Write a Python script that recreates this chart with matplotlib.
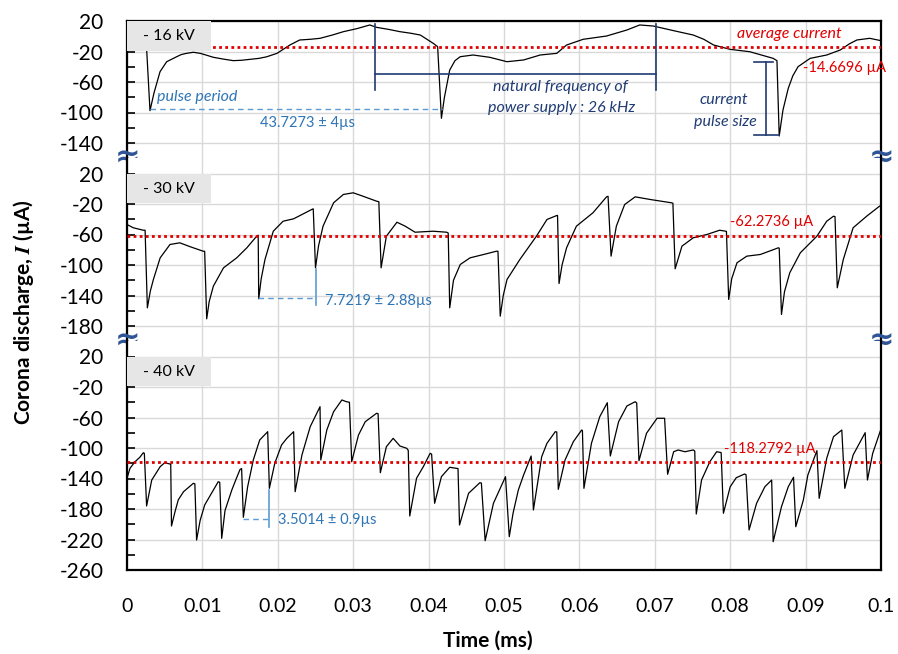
import numpy as np
import matplotlib.pyplot as plt
from matplotlib.patches import Rectangle

plt.rcParams['font.family'] = ['Lato', 'DejaVu Sans']
plt.rcParams['mathtext.fontset'] = 'stix'
plt.rcParams['axes.unicode_minus'] = False

# -------------------- datos --------------------
# (tiempo en ms, corriente en uA)
trace_16kv = [
    (0, -12), (0.0015, -14), (0.0024, -16), (0.00261, -18), (0.00305, -97.6),
    (0.00358, -74.4), (0.00438, -46.5), (0.00526, -33.4), (0.0066, -26.8),
    (0.0072, -24), (0.0079, -22.4), (0.0088, -21), (0.0097, -22.4), (0.0106, -25),
    (0.01145, -27.6), (0.0128, -30), (0.0141, -32), (0.0152, -31.5),
    (0.0163, -30.3), (0.0175, -29), (0.0185, -27), (0.0199, -22.4), (0.0216, -11.5),
    (0.0229, -4.9), (0.0243, -4), (0.0256, -2.7), (0.0272, 1.5), (0.0287, 6),
    (0.0305, 10), (0.0322, 14.8), (0.0331, 11.7), (0.0347, 9), (0.0362, 6),
    (0.0376, 4), (0.0389, 1.6), (0.0406, -9.2), (0.0412, -13.7), (0.0417, -107.6),
    (0.0421, -80), (0.0428, -44.3), (0.0435, -32), (0.0442, -26.8), (0.0459, -24.6),
    (0.0481, -27.6), (0.0504, -33.4), (0.0526, -31.1), (0.0548, -24.6), (0.057, -22.4),
    (0.0583, -11.5), (0.0605, -4), (0.0636, 0.3), (0.0663, 8.2), (0.068, 14.8),
    (0.0698, 13.4), (0.0725, 7.3), (0.0751, 1.6), (0.0765, -4), (0.0778, -11.5),
    (0.08, -17.2), (0.0826, -20.3), (0.0857, -29), (0.0862, -32), (0.0865, -130.8),
    (0.087, -96.7), (0.0877, -68.3), (0.0883, -52), (0.089, -39.9), (0.0906, -29),
    (0.0928, -24.6), (0.0946, -18), (0.0958, -10), (0.0968, -4.9), (0.0985, -2.7),
    (0.1, -5.8),
]

trace_30kv = [
    (0, -46.9), (0.00084, -51.2), (0.00216, -54.4), (0.0024, -54.4), (0.0027, -156.2),
    (0.0031, -134), (0.0035, -119), (0.0044, -90.6), (0.0057, -73.1), (0.007, -70.9),
    (0.0084, -76.1), (0.0101, -81.9), (0.0103, -82), (0.01057, -170.6),
    (0.0109, -148), (0.01145, -127.8), (0.0128, -103.7), (0.01455, -90.6),
    (0.0159, -77.4), (0.0172, -62.2), (0.0174, -61), (0.01747, -144.3),
    (0.0178, -118), (0.0183, -92.8), (0.0194, -55.7), (0.0207, -42.6),
    (0.0221, -39.4), (0.0245, -27.2), (0.0247, -26.3), (0.025, -103.7),
    (0.0254, -75), (0.026, -49.1), (0.0274, -18.4), (0.0287, -7.5), (0.03, -5.3),
    (0.0313, -9.8), (0.0331, -16.3), (0.0334, -17), (0.0337, -103.7),
    (0.0344, -62.2), (0.0358, -43.9), (0.0369, -49.1), (0.0382, -57),
    (0.0406, -55.7), (0.0424, -57), (0.0426, -58), (0.0428, -156.2),
    (0.0433, -120), (0.0442, -99.3), (0.0455, -90.6), (0.0473, -86.2), (0.049, -81.9),
    (0.0492, -82), (0.0495, -167.1), (0.0499, -140), (0.0504, -119), (0.0521, -92.8),
    (0.0543, -62.2), (0.0557, -40.3), (0.057, -35.1), (0.0571, -35),
    (0.0573, -124.3), (0.0577, -100), (0.0583, -77.4), (0.0596, -49.1), (0.0618, -31.5),
    (0.0636, -10.6), (0.0638, -9.9), (0.0642, -88.4), (0.0649, -49.1),
    (0.066, -20.7), (0.0674, -10.6), (0.0694, -14.1), (0.0722, -18.4),
    (0.0724, -19), (0.0727, -105), (0.0736, -75.3), (0.0751, -64.3),
    (0.0769, -60), (0.0786, -54.4), (0.0794, -55.7), (0.0795, -56),
    (0.0798, -145.2), (0.0802, -118), (0.0809, -97.1), (0.0822, -88.4), (0.084, -86.2),
    (0.0864, -77.4), (0.0865, -78), (0.0868, -164.9), (0.0872, -135), (0.0879, -110.2),
    (0.0893, -84), (0.0915, -62.2), (0.0928, -42.6), (0.0937, -36),
    (0.0939, -36.5), (0.0942, -129.9), (0.095, -92.8), (0.0963, -51.2),
    (0.0981, -36), (0.0998, -22.9), (0.1, -22),
]

trace_40kv = [
    (0, -139.7), (0.0004, -126.6), (0.00106, -118), (0.0017, -112.2), (0.00216, -106.2),
    (0.0023, -107), (0.0026, -176), (0.00328, -142), (0.0037, -135.4), (0.0044, -124.5),
    (0.005, -119.3), (0.0057, -121), (0.0058, -121), (0.0059, -202.3),
    (0.00637, -183.5), (0.0068, -168), (0.0075, -157.3), (0.0088, -146.3), (0.009, -147),
    (0.00923, -220.7), (0.0097, -195), (0.0103, -174.8), (0.01145, -155.1), (0.0121, -144.2),
    (0.0123, -145), (0.01256, -218.5), (0.013, -182), (0.0139, -155.1), (0.0145, -140),
    (0.015, -128), (0.0152, -127), (0.01543, -190.9), (0.016, -150.8), (0.01675, -115.7),
    (0.0176, -89.5), (0.01866, -78.6), (0.01888, -152.9), (0.0196, -120), (0.0205, -96),
    (0.0212, -87.3), (0.0221, -78.6), (0.0223, -157.3), (0.0232, -109.2),
    (0.0243, -72), (0.0256, -45.8), (0.0257, -115.7), (0.0265, -76.4),
    (0.0274, -52.4), (0.0285, -37), (0.0291, -39.3), (0.0295, -40), (0.0298, -118),
    (0.0307, -83), (0.0316, -65.5), (0.0331, -54.5), (0.0333, -55), (0.0336, -132.4),
    (0.0344, -98.3), (0.0353, -87.3), (0.0362, -97.4), (0.0371, -100.4),
    (0.0373, -103), (0.0375, -189.2), (0.0384, -139.7), (0.0393, -124.5),
    (0.0402, -107), (0.0404, -108), (0.0408, -172.5), (0.0417, -137.6),
    (0.0428, -125.3), (0.0437, -126.6), (0.0439, -127), (0.0441, -201),
    (0.0453, -159.4), (0.0468, -145.5), (0.047, -146), (0.0475, -221.6),
    (0.0486, -172.5), (0.0495, -152.9), (0.0502, -137.6), (0.0507, -216.3),
    (0.0512, -185.6), (0.0519, -155.1), (0.0526, -135.4), (0.0536, -110.5),
    (0.0539, -181.3), (0.055, -111.4), (0.0557, -93.8), (0.0568, -78.6),
    (0.057, -79), (0.0572, -154.2), (0.0581, -115.7), (0.0592, -91.7),
    (0.0603, -76.4), (0.0604, -77), (0.0606, -152.9), (0.0616, -93.8),
    (0.0627, -59), (0.0637, -40.6), (0.0641, -110.5), (0.0652, -65.5),
    (0.0663, -44.9), (0.0674, -39.3), (0.0676, -41), (0.0679, -116.7),
    (0.0689, -80.7), (0.0703, -61), (0.0713, -61), (0.0717, -134.5),
    (0.0725, -104.9), (0.0731, -102.6), (0.074, -104.9), (0.0751, -102.6),
    (0.0753, -104), (0.0755, -186.6), (0.0762, -142), (0.0773, -118),
    (0.0782, -104.9), (0.0788, -106), (0.0791, -185.6), (0.08, -150.8),
    (0.0808, -139), (0.0819, -134.1), (0.0821, -135), (0.0825, -207.5),
    (0.0835, -172.5), (0.0846, -150.8), (0.0855, -142), (0.0857, -222.9),
    (0.0868, -177), (0.0877, -150.8), (0.0884, -138.4), (0.0887, -203.2),
    (0.0897, -168.2), (0.0903, -135.4), (0.0915, -103.5), (0.0918, -166),
    (0.0928, -113.5), (0.0937, -85.2), (0.0948, -76.4), (0.0952, -152.9),
    (0.0963, -109.2), (0.0979, -79.9), (0.0982, -142), (0.0989, -107), (0.1, -75),
]

voltajes = ["- 16 kV", "- 30 kV", "- 40 kV"]
promedios = [-14.6696, -62.2736, -118.2792]
periodos = ["43.7273 \u00b1 4\u00b5s", "7.7219 \u00b1 2.88\u00b5s", "3.5014 \u00b1 0.9\u00b5s"]
ylims = [(-160, 20), (-200, 40), (-260, 40)]
yticks = [[20, -20, -60, -100, -140],
          [20, -20, -60, -100, -140, -180],
          [20, -20, -60, -100, -140, -180, -220, -260]]
xticks = [0, 0.01, 0.02, 0.03, 0.04, 0.05, 0.06, 0.07, 0.08, 0.09, 0.1]
xlabels = ["0", "0.01", "0.02", "0.03", "0.04", "0.05", "0.06", "0.07", "0.08", "0.09", "0.1"]

RED = "#e00000"
BLUE = "#2e75b6"
LIGHTBLUE = "#5b9bd5"
NAVY = "#1f3b73"
BREAK = "#2f5597"

# -------------------- figura --------------------
fig = plt.figure(figsize=(8.98, 6.54), dpi=100)
gs = fig.add_gridspec(3, 1, height_ratios=[180, 240, 300], hspace=0,
                      left=127 / 898, right=881 / 898, top=1 - 21 / 654, bottom=1 - 570 / 654)
axes = [fig.add_subplot(gs[k]) for k in range(3)]

for k, (ax, tr) in enumerate(zip(axes, [trace_16kv, trace_30kv, trace_40kv])):
    t, i = np.array(tr).T
    ax.plot(t, i, color="black", lw=0.9, zorder=3)
    ax.axhline(promedios[k], color=RED, lw=2, ls=(0, (1, 1.2)), zorder=4)
    ax.set_xlim(0, 0.1)
    ax.set_ylim(*ylims[k])
    ax.set_yticks(yticks[k])
    ax.set_yticks([v - 20 for v in yticks[k] if v - 20 > ylims[k][0]], minor=True)
    ax.set_xticks(xticks)
    ax.grid(True, which="major", color="#d9d9d9", lw=1, zorder=0)
    ax.tick_params(axis="y", which="both", direction="in", length=6, width=1.2,
                   labelsize=15, pad=17)
    ax.tick_params(axis="x", length=0)
    for s in ax.spines.values():
        s.set_linewidth(1.6)
    # caja gris con el voltaje
    ax.add_patch(Rectangle((0, 20), 0.0111, -39, facecolor="#e6e6e6",
                           edgecolor="none", zorder=5))
    ax.text(0.0021, 0, voltajes[k], fontsize=11.5, va="center", ha="left", zorder=6)

axes[0].spines["bottom"].set_visible(False)
axes[1].spines["top"].set_visible(False)
axes[1].spines["bottom"].set_visible(False)
axes[2].spines["top"].set_visible(False)
axes[0].tick_params(axis="x", labelbottom=False)
axes[1].tick_params(axis="x", labelbottom=False)
axes[2].set_xticklabels(xlabels)
axes[2].tick_params(axis="x", labelsize=14, pad=20)

# simbolos de corte del eje
for ax in axes[:2]:
    for xx in (0, 1):
        ax.text(xx, 0, "\u2248", transform=ax.transAxes, ha="center", va="center",
                fontsize=22, color=BREAK, zorder=10, clip_on=False,
                family="DejaVu Sans", fontweight="bold")

# -------------------- anotaciones panel -16 kV --------------------
a = axes[0]
a.text(0.0040, -79.7, "pulse period", color=BLUE, style="italic", fontsize=11.5,
       va="center", ha="left")
a.plot([0.00305, 0.0419], [-95.4, -95.4], color=LIGHTBLUE, lw=1, ls=(0, (4, 3)), zorder=4)
a.text(0.0239, -113.8, periodos[0], color=BLUE, fontsize=10.5, ha="center", va="center")
a.plot([0.0329, 0.0329], [16, -70.5], color=NAVY, lw=1.2, zorder=4)
a.plot([0.0702, 0.0702], [16, -70.5], color=NAVY, lw=1.2, zorder=4)
a.plot([0.0329, 0.0702], [-49.5, -49.5], color=NAVY, lw=1.2, zorder=4)
a.text(0.0575, -66.6, "natural frequency of", color=NAVY, style="italic",
       fontsize=11.5, ha="center", va="center")
a.text(0.0577, -94, "power supply : 26 kHz", color=NAVY, style="italic",
       fontsize=11.5, ha="center", va="center")
a.plot([0.0832, 0.0857], [-33.8, -33.8], color=NAVY, lw=1.2, zorder=4)
a.plot([0.0848, 0.0848], [-33.8, -129.5], color=NAVY, lw=1.2, zorder=4)
a.plot([0.0832, 0.0865], [-129.5, -129.5], color=NAVY, lw=1.2, zorder=4)
a.text(0.0792, -83.6, "current", color=NAVY, style="italic", fontsize=11.5,
       ha="center", va="center")
a.text(0.0793, -112.5, "pulse size", color=NAVY, style="italic", fontsize=11.5,
       ha="center", va="center")
a.text(0.0879, 3, "average current", color=RED, style="italic", fontsize=11.5,
       ha="center", va="center")
a.text(0.0952, -41.6, "-14.6696 \u00b5A", color=RED, fontsize=10.5,
       ha="center", va="center", zorder=6)

# -------------------- anotaciones panel -30 kV --------------------
a = axes[1]
a.plot([0.01737, 0.02507], [-143, -143], color=LIGHTBLUE, lw=1, ls=(0, (4, 3)), zorder=4)
a.plot([0.0251, 0.0251], [-105.9, -152.7], color=LIGHTBLUE, lw=1.2, zorder=4)
a.text(0.0263, -147.5, periodos[1], color=BLUE, fontsize=10.5, ha="left", va="center")
a.text(0.0855, -43, "-62.2736 \u00b5A", color=RED, fontsize=10.5, ha="center", va="center")

# -------------------- anotaciones panel -40 kV --------------------
a = axes[2]
a.plot([0.01538, 0.0187], [-193.1, -193.1], color=LIGHTBLUE, lw=1, ls=(0, (4, 3)), zorder=4)
a.plot([0.01883, 0.01883], [-155.1, -203.2], color=LIGHTBLUE, lw=1.2, zorder=4)
a.text(0.0200, -194.4, periodos[2], color=BLUE, fontsize=10.5, ha="left", va="center")
a.text(0.0853, -101.3, "-118.2792 \u00b5A", color=RED, fontsize=10.5, ha="center", va="center")

# -------------------- etiquetas de ejes --------------------
fig.text(24 / 898, 1 - 312 / 654, r"Corona discharge, $\mathbfit{I}$ (µA)", rotation=90,
         ha="center", va="center", fontsize=15, fontweight="bold")
fig.text(488 / 898, 1 - 641 / 654, "Time (ms)", ha="center", va="center",
         fontsize=15, fontweight="bold")

fig.savefig("out.png", dpi=100)
